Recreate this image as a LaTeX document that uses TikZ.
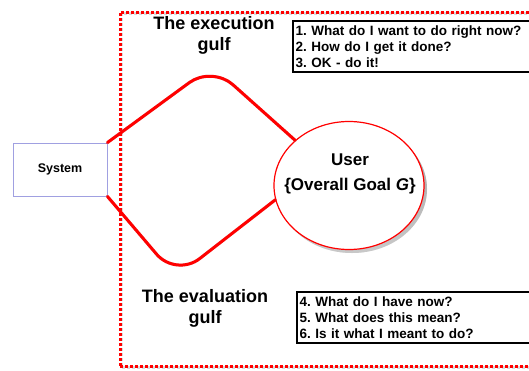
\documentclass[tikz,border=0pt]{standalone}
\usepackage{fontspec}
\setmainfont{Liberation Sans}
\usetikzlibrary{shapes.geometric}
\definecolor{lav}{RGB}{160,160,225}
\definecolor{shade}{RGB}{150,150,150}
\begin{document}
\frenchspacing
\begin{tikzpicture}[x=1pt,y=-1pt,
  frame/.style={draw=red, line width=3pt, dash pattern=on 2.6pt off 2.4pt},
  frameshadow/.style={draw=shade, opacity=0.35, line width=3pt, dash pattern=on 2.6pt off 2.4pt},
  sysbox/.style={draw=lav, line width=0.9pt, minimum width=94pt, minimum height=53pt, inner sep=0pt, font=\bfseries\fontsize{12.5}{14}\selectfont},
  userell/.style={ellipse, draw=red, line width=1.2pt, fill=white, minimum width=150pt, minimum height=128pt, inner sep=0pt},
  gulf/.style={draw=red, line width=3pt, line cap=round, line join=round},
  gulfshadow/.style={draw=shade, opacity=0.4, line width=3pt, line cap=round},
  listbox/.style={draw=black, line width=2.4pt, fill=white, anchor=north west, minimum width=260pt, minimum height=51pt, text width=255pt, inner xsep=1.5pt, inner ysep=0pt, align=left, font=\bfseries\fontsize{13.5}{16}\selectfont},
  title/.style={align=center, font=\bfseries\fontsize{18}{21}\selectfont},
  usertext/.style={align=center, font=\bfseries\fontsize{17}{25}\selectfont}]
\useasboundingbox (0,0) rectangle (529,370);
\clip (0,0) rectangle (529,370);
\fill[white] (0,0) rectangle (529,370);

% dotted frame
\draw[frameshadow] (121,13) rectangle (570,367);
\node[frame, anchor=north west, minimum width=460pt, minimum height=354pt, inner sep=0pt] (frm) at (118.5,10.5) {};

% system
\node[sysbox] (sys) at (60,169.5) {System};

% user ellipse
\fill[shade, opacity=0.3] (352,189) ellipse [x radius=75pt, y radius=64pt];
\node[userell] (user) at (349,185.5) {};
\node[usertext] (utext) at (350,173.5) {User\\\{Overall Goal \textit{G}\}};

% gulfs
\coordinate (ex) at (212,66);
\coordinate (ev) at (176,277);
\begin{scope}[shift={(2,3)}]
\draw[gulfshadow, rounded corners=28pt] (sys.north east) -- (ex) -- (user.140);
\draw[gulfshadow, rounded corners=30pt] (sys.south east) -- (ev) -- (user.191);
\end{scope}
\draw[gulf, rounded corners=28pt] (sys.north east) -- (ex) -- (user.140);
\draw[gulf, rounded corners=30pt] (sys.south east) -- (ev) -- (user.191);

% titles
\node[title] (exec) at (214,35.5) {The execution\\gulf};
\node[title] (eval) at (205,308) {The evaluation\\gulf};

% lists
\node[listbox] (l1) at (292,20) {1. What do I want to do right now?\\2. How do I get it done?\\3. OK - do it!};
\node[listbox] (l2) at (296,291) {4. What do I have now?\\5. What does this mean?\\6. Is it what I meant to do?};
\end{tikzpicture}
\end{document}
